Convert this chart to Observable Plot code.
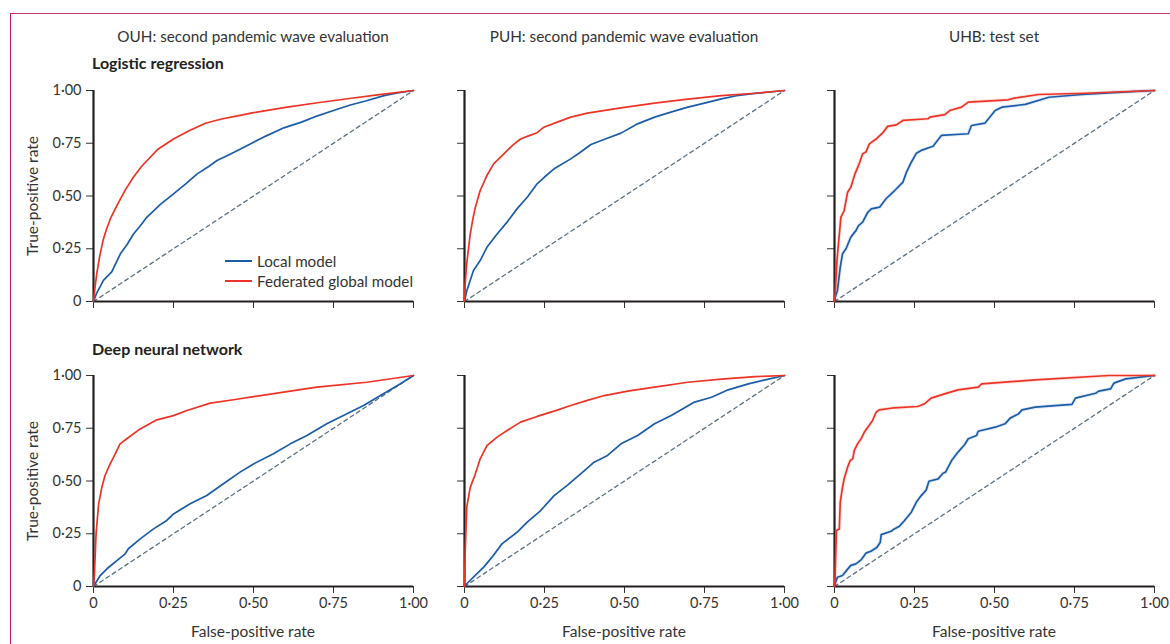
<!DOCTYPE html>
<html>
<head>
<meta charset="utf-8">
<script src="https://cdn.jsdelivr.net/npm/d3@7"></script>
<script src="https://cdn.jsdelivr.net/npm/@observablehq/plot@0.6"></script>
<style>
  html, body { margin: 0; padding: 0; background: #fff; }
  #root { position: relative; width: 1170px; height: 644px; overflow: hidden; font-family: Lato, "Open Sans", sans-serif; color: #333; }
  .frame { position: absolute; left: 10px; top: 13px; width: 1170px; height: 640px; border-top: 1.5px solid #c8306a; border-left: 1.5px solid #c2185b; }
  .t { position: absolute; white-space: nowrap; }
  .ctr { transform: translate(-50%, -50%); }
  .panel { position: absolute; }
  .panel svg { background: transparent !important; overflow: visible; }
</style>
</head>
<body>
<div id="root">
  <div class="frame"></div>
</div>
<script>
// ---------- data ----------
const columnTitles = ["OUH: second pandemic wave evaluation", "PUH: second pandemic wave evaluation", "UHB: test set"];
const rowTitles = ["Logistic regression", "Deep neural network"];
const seriesNames = ["Local model", "Federated global model"];
const tickValues = [0, 0.25, 0.5, 0.75, 1];
const tickLabels = ["0", "0·25", "0·50", "0·75", "1·00"];
const diagonal = [[0, 0], [1, 1]];

// [false-positive rate, true-positive rate]
const ouhLrLocal = [[0,0],[0.01,0.04],[0.031,0.10],[0.057,0.14],[0.084,0.226],[0.105,0.27],[0.125,0.32],[0.147,0.36],[0.167,0.40],[0.188,0.43],[0.209,0.46],[0.25,0.51],[0.29,0.56],[0.324,0.605],[0.36,0.64],[0.386,0.668],[0.43,0.70],[0.49,0.747],[0.54,0.785],[0.595,0.823],[0.65,0.85],[0.70,0.88],[0.75,0.905],[0.80,0.93],[0.85,0.95],[0.908,0.976],[0.95,0.988],[1,1]];
const ouhLrFed = [[0,0],[0.005,0.07],[0.01,0.13],[0.02,0.22],[0.03,0.29],[0.04,0.34],[0.052,0.39],[0.075,0.46],[0.1,0.53],[0.125,0.59],[0.15,0.64],[0.175,0.68],[0.2,0.72],[0.25,0.77],[0.3,0.81],[0.35,0.845],[0.4,0.865],[0.45,0.88],[0.5,0.895],[0.6,0.92],[0.7,0.942],[0.8,0.962],[0.9,0.982],[1,1]];
const puhLrLocal = [[0,0],[0.007,0.05],[0.028,0.147],[0.049,0.194],[0.07,0.257],[0.102,0.32],[0.133,0.376],[0.164,0.439],[0.196,0.494],[0.227,0.558],[0.25,0.59],[0.28,0.629],[0.332,0.676],[0.36,0.705],[0.395,0.744],[0.44,0.77],[0.489,0.798],[0.541,0.842],[0.594,0.874],[0.65,0.9],[0.698,0.921],[0.75,0.94],[0.803,0.96],[0.85,0.975],[0.908,0.986],[1,1]];
const puhLrFed = [[0,0],[0.002,0.08],[0.007,0.18],[0.013,0.257],[0.018,0.32],[0.026,0.39],[0.034,0.447],[0.049,0.526],[0.07,0.597],[0.091,0.652],[0.123,0.70],[0.15,0.74],[0.175,0.77],[0.2,0.785],[0.227,0.80],[0.248,0.826],[0.29,0.85],[0.332,0.874],[0.384,0.893],[0.489,0.918],[0.594,0.94],[0.698,0.959],[0.803,0.976],[0.908,0.987],[1,1]];
const uhbLrLocal = [[0,0],[0.002,0.02],[0.009,0.05],[0.018,0.163],[0.025,0.226],[0.036,0.25],[0.051,0.305],[0.067,0.336],[0.075,0.36],[0.088,0.376],[0.104,0.423],[0.115,0.439],[0.141,0.447],[0.161,0.487],[0.188,0.526],[0.214,0.566],[0.225,0.613],[0.24,0.66],[0.256,0.703],[0.271,0.716],[0.308,0.736],[0.334,0.787],[0.418,0.795],[0.428,0.834],[0.47,0.845],[0.502,0.905],[0.523,0.921],[0.596,0.934],[0.67,0.968],[0.774,0.981],[0.87,0.99],[1,1]];
const uhbLrFed = [[0,0],[0.002,0.036],[0.008,0.2],[0.02,0.40],[0.03,0.43],[0.041,0.518],[0.051,0.542],[0.064,0.605],[0.077,0.652],[0.088,0.70],[0.098,0.708],[0.109,0.747],[0.13,0.77],[0.151,0.80],[0.166,0.83],[0.193,0.837],[0.214,0.858],[0.292,0.866],[0.298,0.874],[0.345,0.886],[0.36,0.905],[0.397,0.921],[0.418,0.945],[0.543,0.956],[0.565,0.965],[0.638,0.981],[0.784,0.987],[1,1]];
const ouhDnnLocal = [[0,0],[0.005,0.013],[0.021,0.052],[0.042,0.084],[0.073,0.123],[0.099,0.155],[0.109,0.179],[0.146,0.226],[0.1875,0.273],[0.229,0.313],[0.25,0.344],[0.302,0.392],[0.354,0.431],[0.406,0.487],[0.458,0.542],[0.50,0.581],[0.5625,0.629],[0.615,0.676],[0.667,0.716],[0.729,0.771],[0.781,0.81],[0.844,0.858],[0.906,0.913],[0.958,0.96],[1,1]];
const ouhDnnFed = [[0,0],[0.003,0.06],[0.008,0.25],[0.016,0.39],[0.026,0.47],[0.036,0.526],[0.052,0.581],[0.068,0.629],[0.083,0.676],[0.104,0.70],[0.146,0.747],[0.198,0.79],[0.25,0.81],[0.292,0.834],[0.365,0.869],[0.4375,0.885],[0.50,0.90],[0.594,0.921],[0.698,0.945],[0.854,0.968],[1,1]];
const puhDnnLocal = [[0,0],[0.007,0.013],[0.028,0.044],[0.06,0.092],[0.086,0.139],[0.117,0.202],[0.164,0.257],[0.196,0.305],[0.238,0.36],[0.28,0.431],[0.321,0.479],[0.363,0.534],[0.405,0.589],[0.447,0.621],[0.489,0.676],[0.541,0.716],[0.594,0.771],[0.646,0.81],[0.719,0.874],[0.772,0.897],[0.824,0.932],[0.887,0.96],[0.95,0.983],[1,1]];
const puhDnnFed = [[0,0],[0.002,0.155],[0.007,0.376],[0.018,0.47],[0.034,0.534],[0.049,0.605],[0.07,0.668],[0.102,0.708],[0.133,0.739],[0.175,0.779],[0.227,0.806],[0.28,0.831],[0.332,0.858],[0.384,0.882],[0.437,0.905],[0.51,0.926],[0.594,0.945],[0.698,0.968],[0.803,0.983],[0.908,0.995],[1,1]];
const uhbDnnLocal = [[0,0],[0.002,0.013],[0.009,0.044],[0.025,0.052],[0.036,0.073],[0.051,0.10],[0.067,0.107],[0.083,0.126],[0.098,0.158],[0.114,0.167],[0.133,0.186],[0.143,0.21],[0.146,0.246],[0.177,0.262],[0.187,0.273],[0.203,0.286],[0.219,0.313],[0.24,0.352],[0.256,0.40],[0.271,0.431],[0.287,0.458],[0.295,0.499],[0.324,0.51],[0.339,0.537],[0.347,0.542],[0.366,0.597],[0.386,0.637],[0.407,0.673],[0.418,0.70],[0.444,0.716],[0.449,0.736],[0.502,0.755],[0.533,0.771],[0.549,0.798],[0.575,0.818],[0.586,0.837],[0.627,0.85],[0.742,0.863],[0.753,0.893],[0.816,0.916],[0.826,0.926],[0.863,0.937],[0.873,0.964],[0.91,0.984],[1,1]];
const uhbDnnFed = [[0,0],[0.002,0.06],[0.006,0.265],[0.015,0.273],[0.018,0.40],[0.025,0.47],[0.03,0.51],[0.041,0.566],[0.049,0.597],[0.057,0.605],[0.062,0.645],[0.072,0.676],[0.083,0.70],[0.093,0.731],[0.104,0.755],[0.119,0.787],[0.13,0.826],[0.14,0.837],[0.187,0.847],[0.26,0.853],[0.281,0.866],[0.302,0.893],[0.344,0.913],[0.386,0.932],[0.449,0.945],[0.46,0.96],[0.627,0.979],[0.858,1],[1,1]];

const colors = { local: "#1b5ca8", fed: "#ec3326", diag: "#5a7283", axis: "#231f20", text: "#333" };

// ---------- layout ----------
const axisLeft = [93, 464, 834];
const axisTop = [90, 375];
const plotW = 320, plotH = 211;

const panels = [
  { r: 0, c: 0, local: ouhLrLocal, fed: ouhLrFed, halo: false },
  { r: 0, c: 1, local: puhLrLocal, fed: puhLrFed, halo: false },
  { r: 0, c: 2, local: uhbLrLocal, fed: uhbLrFed, halo: true },
  { r: 1, c: 0, local: ouhDnnLocal, fed: ouhDnnFed, halo: false },
  { r: 1, c: 1, local: puhDnnLocal, fed: puhDnnFed, halo: false },
  { r: 1, c: 2, local: uhbDnnLocal, fed: uhbDnnFed, halo: true }
];

const root = document.getElementById("root");
const fmt = d => tickLabels[tickValues.indexOf(d)];
const blank = () => "";

panels.forEach(p => {
  const mL = p.c === 0 ? 84 : 12;
  const mR = p.c === 2 ? 16 : 20;
  const mT = 10, mB = 35;
  const marks = [
    Plot.line(diagonal, { x: d => d[0], y: d => d[1], stroke: colors.diag, strokeWidth: 1.3, strokeDasharray: "4,3.5" }),
    Plot.ruleX([0], { stroke: colors.axis, strokeWidth: 2.2 }),
    Plot.ruleY([0], { stroke: colors.axis, strokeWidth: 2.2 })
  ];
  if (p.halo) {
    marks.push(Plot.line(p.local, { x: d => d[0], y: d => d[1], stroke: colors.local, strokeWidth: 3.6, strokeOpacity: 0.12 }));
    marks.push(Plot.line(p.fed, { x: d => d[0], y: d => d[1], stroke: colors.fed, strokeWidth: 3.6, strokeOpacity: 0.12 }));
  }
  marks.push(Plot.line(p.local, { x: d => d[0], y: d => d[1], stroke: colors.local, strokeWidth: 1.7 }));
  marks.push(Plot.line(p.fed, { x: d => d[0], y: d => d[1], stroke: colors.fed, strokeWidth: 1.7 }));

  const chart = Plot.plot({
    width: mL + plotW + mR,
    height: mT + plotH + mB,
    marginLeft: mL, marginRight: mR, marginTop: mT, marginBottom: mB,
    style: { background: "transparent", fontFamily: "Lato, 'Open Sans', sans-serif", fontSize: "14.5px", color: colors.text, overflow: "visible" },
    x: { domain: [0, 1], ticks: tickValues, tickFormat: p.r === 1 ? fmt : blank, tickSize: 7, tickPadding: 4, label: null },
    y: { domain: [0, 1], ticks: tickValues, tickFormat: p.c === 0 ? fmt : blank, tickSize: 7, tickPadding: 5, label: null },
    marks
  });
  const wrap = document.createElement("div");
  wrap.className = "panel";
  wrap.style.left = (axisLeft[p.c] - mL) + "px";
  wrap.style.top = (axisTop[p.r] - mT) + "px";
  wrap.appendChild(chart);
  root.appendChild(wrap);
});

function addText(txt, x, y, css) {
  const d = document.createElement("div");
  d.className = "t";
  d.textContent = txt;
  d.style.left = x + "px";
  d.style.top = y + "px";
  Object.assign(d.style, css || {});
  root.appendChild(d);
  return d;
}

// column titles
columnTitles.forEach((t, i) => {
  const d = addText(t, axisLeft[i] + plotW / 2, 36, { fontSize: "15.3px", color: "#333" });
  d.classList.add("ctr");
});
// row titles
rowTitles.forEach((t, i) => {
  addText(t, 92, [62, 348][i], { fontSize: "16px", fontWeight: "bold", color: "#222", transform: "translateY(-50%)" });
});
// y labels
axisTop.forEach(top => {
  addText("True-positive rate", 32, top + plotH / 2, { fontSize: "15.5px", color: "#333", transform: "translate(-50%,-50%) rotate(-90deg)" });
});
// x labels
axisLeft.forEach(left => {
  const d = addText("False-positive rate", left + plotW / 2, 631, { fontSize: "15.5px", color: "#333" });
  d.classList.add("ctr");
});
// legend
const legendColors = [colors.local, colors.fed];
seriesNames.forEach((name, i) => {
  const y = 261 + i * 20;
  const line = document.createElement("div");
  Object.assign(line.style, { position: "absolute", left: "225px", top: (y - 0.75) + "px", width: "27px", height: "1.6px", background: legendColors[i] });
  root.appendChild(line);
  addText(name, 257, y, { fontSize: "15.2px", color: "#333", transform: "translateY(-50%)" });
});
</script>
</body>
</html>
